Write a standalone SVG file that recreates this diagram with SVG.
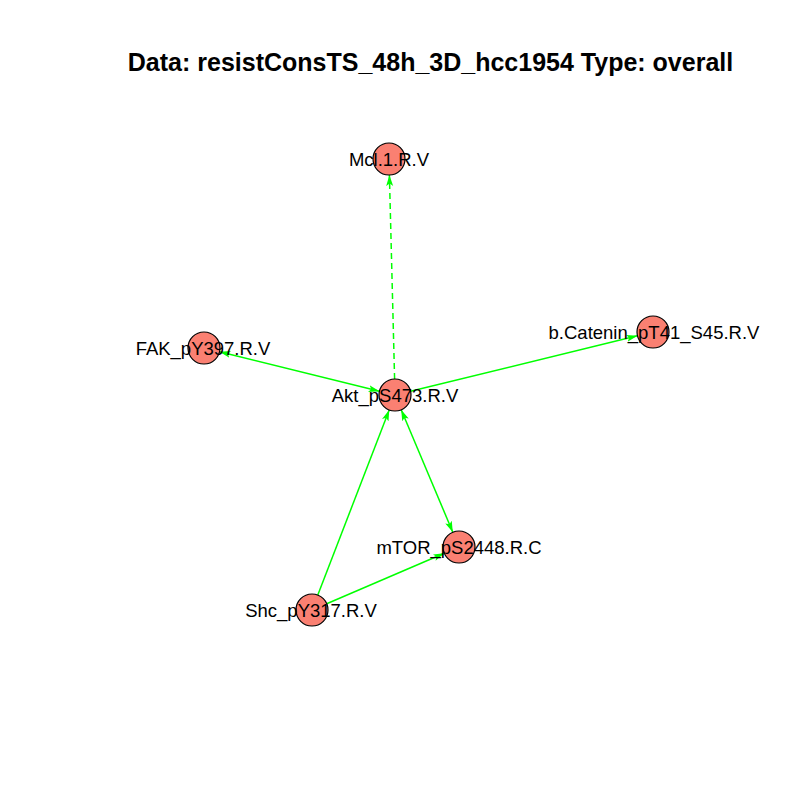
<svg xmlns="http://www.w3.org/2000/svg" width="800" height="800" viewBox="0 0 800 800">
<style>
.e{stroke:#00ff00;stroke-width:1.5;fill:none}
.d{stroke-dasharray:6,4}
.n{fill:#fa8072;stroke:#000;stroke-width:1.2}
.l{font-family:"Liberation Sans",Arial,sans-serif;font-size:18.5px;fill:#000;text-anchor:middle}
.t{font-family:"Liberation Sans",Arial,sans-serif;font-size:25px;font-weight:bold;fill:#000;text-anchor:middle}
</style>
<defs>
<marker id="a" markerUnits="userSpaceOnUse" markerWidth="12" markerHeight="8" refX="11" refY="4" orient="auto-start-reverse">
<path d="M0,0.5 L11,4 L0,7.5 L2.5,4 z" fill="#00ff00"/>
</marker>
</defs>
<rect width="800" height="800" fill="#fff"/>
<text class="t" x="430.5" y="71">Data: resistConsTS_48h_3D_hcc1954 Type: overall</text>
<g id="edges">
<line class="e d" x1="394.6" y1="379" x2="389.4" y2="175" marker-end="url(#a)"/>
<line class="e" x1="379.5" y1="391.2" x2="219.5" y2="351.8" marker-start="url(#a)" marker-end="url(#a)"/>
<line class="e" x1="410.5" y1="391.2" x2="637.5" y2="335.8" marker-end="url(#a)"/>
<line class="e" x1="401.2" y1="409.8" x2="452.8" y2="532.2" marker-start="url(#a)" marker-end="url(#a)"/>
<line class="e" x1="317.8" y1="595.1" x2="389.2" y2="409.9" marker-end="url(#a)"/>
<line class="e" x1="326.7" y1="603.7" x2="444.3" y2="553.3" marker-end="url(#a)"/>
</g>
<g id="Mcl"><circle class="n" cx="389" cy="159" r="16"/><text class="l" x="389" y="166">Mcl.1.R.V</text></g>
<g id="FAK"><circle class="n" cx="204" cy="348" r="16"/><text class="l" x="203" y="355">FAK_pY397.R.V</text></g>
<g id="Akt"><circle class="n" cx="395" cy="395" r="16"/><text class="l" x="395" y="401.5">Akt_pS473.R.V</text></g>
<g id="bCat"><circle class="n" cx="653" cy="332" r="16"/><text class="l" x="654" y="339">b.Catenin_pT41_S45.R.V</text></g>
<g id="mTOR"><circle class="n" cx="459" cy="547" r="16"/><text class="l" x="459" y="554">mTOR_pS2448.R.C</text></g>
<g id="Shc"><circle class="n" cx="312" cy="610" r="16"/><text class="l" x="311" y="617">Shc_pY317.R.V</text></g>
</svg>
